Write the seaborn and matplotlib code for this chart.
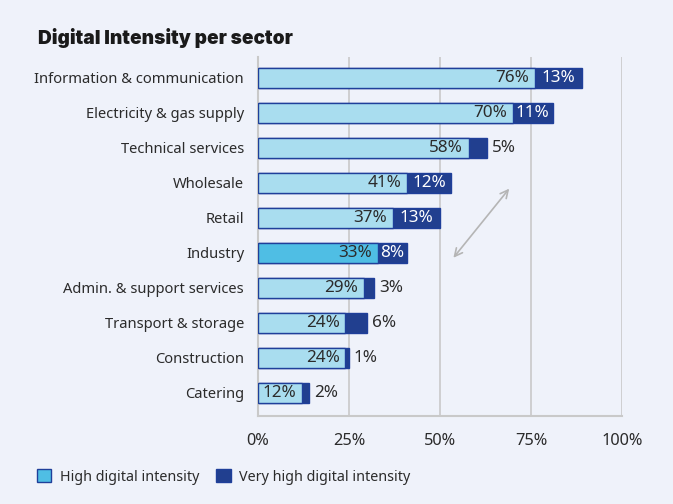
import matplotlib
matplotlib.use("Agg")
import matplotlib.pyplot as plt
import seaborn as sns
import pandas as pd
from matplotlib.patches import Patch

sectors = ["Information & communication", "Electricity & gas supply", "Technical services",
           "Wholesale", "Retail", "Industry", "Admin. & support services",
           "Transport & storage", "Construction", "Catering"]
high = [76, 70, 58, 41, 37, 33, 29, 24, 24, 12]
very_high = [13, 11, 5, 12, 13, 8, 3, 6, 1, 2]
highlight = "Industry"
xticks = [0, 25, 50, 75, 100]
xtick_labels = ["0%", "25%", "50%", "75%", "100%"]
title = "Digital Intensity per sector"
legend_labels = ["High digital intensity", "Very high digital intensity"]

BG = "#eff2fa"
LIGHT = "#a9ddef"
HILITE = "#4fbee4"
DARK = "#213f8f"
EDGE = "#1f3f9a"
TEXT = "#2b2b2b"
GRID = "#c9c9c9"

sns.set_theme(style="white")
plt.rcParams["font.family"] = ["Noto Sans", "DejaVu Sans"]

df = pd.DataFrame({"sector": sectors, "high": high, "very_high": very_high})
df["total"] = df["high"] + df["very_high"]

fig = plt.figure(figsize=(6.73, 5.04), dpi=100, facecolor=BG)
ax = fig.add_axes([258 / 673, 1 - 416 / 504, 364 / 673, (416 - 57) / 504])
ax.set_facecolor(BG)

for x in xticks[1:]:
    ax.axvline(x, color=GRID, lw=1.2, zorder=0)

sns.barplot(data=df, y="sector", x="total", orient="h", color=DARK, width=0.58,
            edgecolor=EDGE, linewidth=1.0, ax=ax, zorder=2, saturation=1)
light_pal = {s: (HILITE if s == highlight else LIGHT) for s in sectors}
sns.barplot(data=df, y="sector", x="high", hue="sector", palette=light_pal, orient="h",
            width=0.58, edgecolor=EDGE, linewidth=1.0, ax=ax, legend=False, zorder=3,
            saturation=1)

for i, (h, v) in enumerate(zip(high, very_high)):
    ax.text(h - 1.6, i, f"{h}%", ha="right", va="center", color=TEXT, fontsize=12.3, zorder=5)
    if v >= 8:
        ax.text(h + v / 2, i, f"{v}%", ha="center", va="center", color="white",
                fontsize=12.3, zorder=5)
    else:
        ax.text(h + v + 1.3, i, f"{v}%", ha="left", va="center", color=TEXT,
                fontsize=12.3, zorder=5)

ax.set_xlim(0, 100)
ax.set_ylim(9.66, -0.6)
ax.set_xticks(xticks)
ax.set_xticklabels(xtick_labels, fontsize=11.8, color=TEXT)
ax.tick_params(axis="x", length=0, pad=12)
ax.tick_params(axis="y", length=0, pad=10, labelsize=10.6, labelcolor=TEXT)
ax.set_xlabel("")
ax.set_ylabel("")
for s in ["top", "right"]:
    ax.spines[s].set_visible(False)
for s in ["left", "bottom"]:
    ax.spines[s].set_color(GRID)
    ax.spines[s].set_linewidth(1.5)

ax.annotate("", xy=(69.5, 3.1), xytext=(53.2, 5.2),
            arrowprops=dict(arrowstyle="<->", color="#b5b5b5", lw=1.2,
                            mutation_scale=14))

fig.text(38 / 673, 1 - 38 / 504, title, fontsize=13.7, fontweight="black",
         color="#1a1a1a", va="center", ha="left", family=["Inter", "DejaVu Sans"])

handles = [Patch(facecolor=HILITE, edgecolor=EDGE, label=legend_labels[0]),
           Patch(facecolor=DARK, edgecolor=EDGE, label=legend_labels[1])]
fig.legend(handles=handles, loc="center left", bbox_to_anchor=(24 / 673, 1 - 477 / 504),
           ncol=2, frameon=False, fontsize=10.3, handlelength=1.0, handleheight=1.0,
           handletextpad=0.6, columnspacing=1.2, labelcolor=TEXT)

fig.savefig("out.png", dpi=100, facecolor=BG)
